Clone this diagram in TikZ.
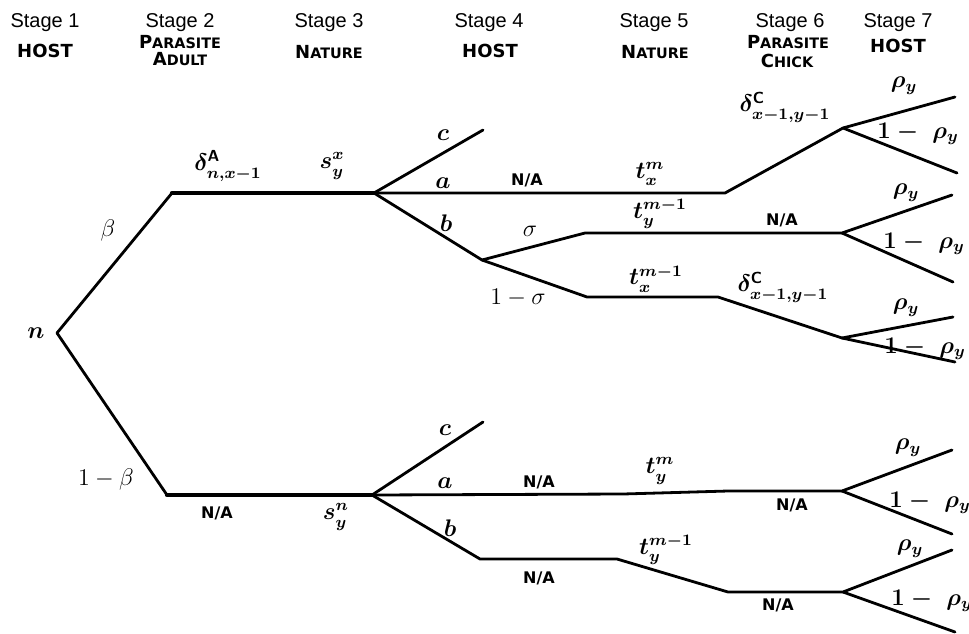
\documentclass[tikz,border=0pt]{standalone}
\usepackage{amsmath}
\usepackage{amssymb}
\usepackage{fontspec}
\usepackage{tikz}
\newfontfamily\stagefont{Liberation Sans}
\newfontfamily\rolefont{DejaVu Sans}
\newcommand{\rolecap}[2]{{\fontsize{9}{10}\selectfont #1}{\fontsize{7.2}{8}\selectfont #2}}

\tikzset{
  branch/.style = {line width = 1.4pt, line cap = round, line join = round},
  trunk/.style = {line width = 2.1pt, line cap = round, line join = round},
  stagelbl/.style = {anchor = base, inner sep = 0pt, font = \stagefont\fontsize{10}{12}\selectfont},
  rolelbl/.style = {anchor = base, inner sep = 0pt, font = \rolefont\bfseries\fontsize{9}{10}\selectfont},
  nalbl/.style = {inner sep = 0pt, font = \rolefont\bfseries\fontsize{8}{9}\selectfont},
  problbl/.style = {inner sep = 0pt, font = \fontsize{12}{14}\selectfont\boldmath},
  plainlbl/.style = {inner sep = 0pt, font = \fontsize{12}{14}\selectfont}
}

\begin{document}
\begin{tikzpicture}[x = 0.5pt, y = -0.5pt]
\useasboundingbox (0, 0) rectangle (969, 633);

\node [stagelbl] (st1) at (45, 27) {Stage 1};
\node [stagelbl] (st2) at (180, 27) {Stage 2};
\node [stagelbl] (st3) at (329, 27) {Stage 3};
\node [stagelbl] (st4) at (489, 27) {Stage 4};
\node [stagelbl] (st5) at (654, 27) {Stage 5};
\node [stagelbl] (st6) at (790, 27) {Stage 6};
\node [stagelbl] (st7) at (898, 27) {Stage 7};

\node [rolelbl] (host1) at (45, 57) {HOST};
\node [rolelbl] (par2) at (180, 48) {\rolecap{P}{ARASITE}};
\node [rolelbl] (adult2) at (180, 65) {\rolecap{A}{DULT}};
\node [rolelbl] (nat3) at (329, 58) {\rolecap{N}{ATURE}};
\node [rolelbl] (host4) at (490, 57) {HOST};
\node [rolelbl] (nat5) at (655, 58) {\rolecap{N}{ATURE}};
\node [rolelbl] (par6) at (788, 48) {\rolecap{P}{ARASITE}};
\node [rolelbl] (chick6) at (787, 67) {\rolecap{C}{HICK}};
\node [rolelbl] (host7) at (898, 52) {HOST};

\coordinate (n) at (57, 333);
\coordinate (up1) at (172, 193);
\coordinate (up2) at (374, 193);
\coordinate (upc) at (483, 130);
\coordinate (upa1) at (725, 193);
\coordinate (upa2) at (843, 128);
\coordinate (upa3) at (955, 97);
\coordinate (upa4) at (957, 173);
\coordinate (upb) at (482, 260);
\coordinate (sig1) at (585, 233);
\coordinate (sig2) at (842, 233);
\coordinate (sig3) at (952, 195);
\coordinate (sig4) at (953, 282);
\coordinate (nsig1) at (587, 297);
\coordinate (nsig2) at (718, 297);
\coordinate (nsig3) at (842, 338);
\coordinate (nsig4) at (953, 317);
\coordinate (nsig5) at (955, 362);

\coordinate (lo1) at (167, 495);
\coordinate (lo2) at (372, 495);
\coordinate (loc) at (483, 422);
\coordinate (loa1) at (623, 494);
\coordinate (loa2) at (728, 491);
\coordinate (loa3) at (842, 491);
\coordinate (loa4) at (952, 450);
\coordinate (loa5) at (952, 534);
\coordinate (lob) at (480, 559);
\coordinate (lob1) at (617, 559);
\coordinate (lob2) at (728, 592);
\coordinate (lob3) at (843, 592);
\coordinate (lob4) at (952, 550);
\coordinate (lob5) at (955, 632);

\draw [branch] (n) -- (up1);
\draw [trunk] (up1) -- (up2);
\draw [branch] (up2) -- (upc);
\draw [branch] (up2) -- (upa1) -- (upa2) -- (upa3);
\draw [branch] (upa2) -- (upa4);
\draw [branch] (up2) -- (upb) -- (sig1) -- (sig2) -- (sig3);
\draw [branch] (sig2) -- (sig4);
\draw [branch] (upb) -- (nsig1) -- (nsig2) -- (nsig3) -- (nsig4);
\draw [branch] (nsig3) -- (nsig5);

\draw [branch] (n) -- (lo1);
\draw [trunk] (lo1) -- (lo2);
\draw [branch] (lo2) -- (loc);
\draw [branch] (lo2) -- (loa1) -- (loa2) -- (loa3) -- (loa4);
\draw [branch] (loa3) -- (loa5);
\draw [branch] (lo2) -- (lob) -- (lob1) -- (lob2) -- (lob3) -- (lob4);
\draw [branch] (lob3) -- (lob5);

\node [problbl] (nlbl) at (36, 333) {$n$};
\node [plainlbl] (beta) at (108, 230) {$\beta$};
\node [plainlbl] (nbeta) at (106, 479) {$1-\beta$};

\node [problbl] (delA) at (228, 166) {$\delta^{\textsf{\textbf{A}}}_{n,x-1}$};
\node [problbl] (sxy) at (332, 166) {$s_y^x$};
\node [problbl] (cup) at (443, 135) {$c$};
\node [problbl] (aup) at (443, 183) {$a$};
\node [problbl] (bup) at (446, 223) {$b$};
\node [nalbl] (naup) at (527, 180) {N/A};
\node [problbl] (txm) at (650, 174) {$t_x^m$};
\node [problbl] (delCup) at (785, 107) {$\delta^{\textsf{\textbf{C}}}_{x-1,y-1}$};
\node [plainlbl] (sigma) at (530, 231) {$\sigma$};
\node [problbl] (tym1) at (660, 214) {$t_y^{m-1}$};
\node [nalbl] (namid) at (782, 220) {N/A};
\node [plainlbl] (nsigma) at (518, 298) {$1-\sigma$};
\node [problbl] (txm1) at (656, 279) {$t_x^{m-1}$};
\node [problbl] (delClo) at (783, 287) {$\delta^{\textsf{\textbf{C}}}_{x-1,y-1}$};

\node [problbl] (rho1) at (904, 86) {$\rho_y$};
\node [problbl] (nrho1) at (918, 134) {$1-\ \rho_y$};
\node [problbl] (rho2) at (906, 193) {$\rho_y$};
\node [problbl] (nrho2) at (924, 244) {$1-\ \rho_y$};
\node [problbl] (rho3) at (906, 308) {$\rho_y$};
\node [problbl] (nrho3) at (925, 349) {$1-\ \rho_y$};

\node [nalbl] (nalo) at (217, 513) {N/A};
\node [problbl] (syn) at (336, 517) {$s_y^n$};
\node [problbl] (clo) at (445, 430) {$c$};
\node [problbl] (alo) at (445, 483) {$a$};
\node [problbl] (blo) at (450, 528) {$b$};
\node [nalbl] (naloa) at (539, 482) {N/A};
\node [problbl] (tym) at (660, 471) {$t_y^m$};
\node [nalbl] (naloa2) at (792, 505) {N/A};
\node [problbl] (rho4) at (908, 448) {$\rho_y$};
\node [problbl] (nrho4) at (930, 503) {$1-\ \rho_y$};
\node [nalbl] (nalob) at (539, 578) {N/A};
\node [problbl] (tym1lo) at (666, 550) {$t_y^{m-1}$};
\node [nalbl] (nalob2) at (778, 605) {N/A};
\node [problbl] (rho5) at (910, 549) {$\rho_y$};
\node [problbl] (nrho5) at (932, 601) {$1-\ \rho_y$};
\end{tikzpicture}
\end{document}
